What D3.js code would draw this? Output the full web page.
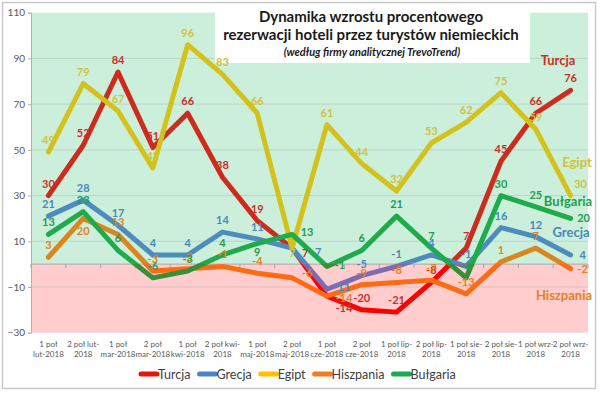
<!DOCTYPE html>
<html>
<head>
<meta charset="utf-8">
<script src="https://cdn.jsdelivr.net/npm/d3@7"></script>
<style>
  body { margin: 0; background: #fff; }
  svg text { font-family: Lato, "Open Sans", sans-serif; }
</style>
</head>
<body>
<div class="chart"></div>
<script>
const svgWidth = 600;
const svgHeight = 394;

// categories (two lines each, as wrapped in the original)
const tickLabels = [
  ["1 poł", "lut-2018"], ["2 poł lut-", "2018"], ["1 poł", "mar-2018"], ["2 poł", "mar-2018"],
  ["1 poł", "kwi-2018"], ["2 poł kwi-", "2018"], ["1 poł", "maj-2018"], ["2 poł", "maj-2018"],
  ["1 poł", "cze-2018"], ["2 poł", "cze-2018"], ["1 poł lip-", "2018"], ["2 poł lip-", "2018"],
  ["1 poł sie-", "2018"], ["2 poł sie-", "2018"], ["1 poł wrz-", "2018"], ["2 poł wrz-", "2018"]
];
const categories = tickLabels.map(d => d.join(" "));

const seriesNames = ["Turcja", "Grecja", "Egipt", "Hiszpania", "Bułgaria"];
const turcja    = [30, 52, 84, 51, 66, 38, 19, 7, -14, -20, -21, -8, 7, 45, 66, 76];
const grecja    = [21, 28, 17, 4, 4, 14, 11, 7, -11, -5, -1, 4, -1, 16, 12, 4];
const egipt     = [49, 79, 67, 42, 96, 83, 66, 7, 61, 44, 32, 53, 62, 75, 59, 30];
const hiszpania = [3, 20, 13, -3, -2, -1, -4, -6, -14, -9, -8, -7, -13, 1, 7, -2];
const bulgaria  = [13, 23, 6, -6, -3, 4, 9, 13, -1, 6, 21, 7, -6, 30, 25, 20];
const yTicks = [110, 90, 70, 50, 30, 10, -10, -30];

// styles per series
const styles = {
  "Turcja":    { up: "#cc2b1d", down: "#ff0000", legend: "#e8140c", label: "#c8302a" },
  "Grecja":    { up: "#4d8cbd", down: "#7f6cb0", legend: "#4f84c4", label: "#4a88ba" },
  "Egipt":     { up: "#d3c21c", down: "#d3c21c", legend: "#ffc000", label: "#cfc23c" },
  "Hiszpania": { up: "#d8871e", down: "#ff6a12", legend: "#f47c20", label: "#e5801f" },
  "Bułgaria":  { up: "#1faa4c", down: "#35903a", legend: "#1aab50", label: "#1f9e4e" }
};
// label offsets [dx, dy] from the point where they differ from "above"
const labelOffsets = {
  "Turcja":    { 7: [13, 9], 8: [17, 16] },
  "Grecja":    { 7: [26, 8], 8: [15, 2], 15: [12, 4] },
  "Egipt":     { 7: [0, 9], 15: [10, -8] },
  "Hiszpania": { 1: [0, 17], 7: [15, -1], 8: [17, 6], 15: [12, 4] },
  "Bułgaria":  { 6: [0, 12], 7: [15, 2], 8: [13, 3], 15: [13, 4] }
};

const allSeries = [turcja, grecja, egipt, hiszpania, bulgaria].map((values, i) => ({
  name: seriesNames[i], values: values
}));

const svg = d3.select(".chart").append("svg")
  .attr("width", svgWidth)
  .attr("height", svgHeight);

// outer frame
svg.append("rect")
  .attr("x", 2.5).attr("y", 2.5)
  .attr("width", 593).attr("height", 386)
  .attr("fill", "#fff")
  .attr("stroke", "#c9c9c9")
  .attr("stroke-width", 1.5);

const plot = { left: 31, right: 588, top: 12.7, bottom: 332.7 };

const x = d3.scalePoint()
  .domain(categories)
  .range([plot.left, plot.right])
  .padding(0.5);
const step = x.step();

const y = d3.scaleLinear()
  .domain([-30, 110])
  .range([plot.bottom, plot.top]);

// background bands
svg.append("rect")
  .attr("x", plot.left).attr("y", y(110))
  .attr("width", plot.right - plot.left).attr("height", y(0) - y(110))
  .attr("fill", "#ccefdc");
svg.append("rect")
  .attr("x", plot.left).attr("y", y(0))
  .attr("width", plot.right - plot.left).attr("height", y(-30) - y(0))
  .attr("fill", "#ffcdcd");

// gridlines
svg.append("g")
  .selectAll("line")
  .data(yTicks.slice(1, -1))
  .enter()
  .append("line")
  .attr("x1", plot.left).attr("x2", plot.right)
  .attr("y1", d => y(d)).attr("y2", d => y(d))
  .attr("stroke", "#9aa8a0")
  .attr("stroke-opacity", 0.35);

// y axis
const yAxis = svg.append("g")
  .attr("transform", `translate(${plot.left},0)`)
  .call(d3.axisLeft(y).tickValues(yTicks).tickSize(3).tickFormat(d3.format("d")));
yAxis.select(".domain").attr("stroke", "#b0b0b0");
yAxis.selectAll(".tick line").attr("stroke", "#b0b0b0");
yAxis.selectAll("text")
  .attr("fill", "#595959")
  .attr("font-size", "10px")
  .attr("x", -6);

// zero axis with ticks on category boundaries
const zeroAxis = svg.append("g");
zeroAxis.append("line")
  .attr("x1", plot.left).attr("x2", plot.right)
  .attr("y1", y(0)).attr("y2", y(0))
  .attr("stroke", "#a6a6a6");
zeroAxis.selectAll(".btick")
  .data(d3.range(categories.length + 1))
  .enter()
  .append("line")
  .attr("x1", i => plot.left + i * step).attr("x2", i => plot.left + i * step)
  .attr("y1", y(0)).attr("y2", y(0) + 4)
  .attr("stroke", "#a6a6a6");

// category labels
const xLabels = svg.append("g")
  .selectAll("text")
  .data(tickLabels)
  .enter()
  .append("text")
  .attr("text-anchor", "middle")
  .attr("font-size", "8px")
  .attr("fill", "#595959");
xLabels.each(function (d, i) {
  const t = d3.select(this);
  d.forEach((line, k) => {
    t.append("tspan")
      .attr("x", x(categories[i]))
      .attr("y", 347 + k * 9.5)
      .text(line);
  });
});

// title box
svg.append("rect")
  .attr("x", 215).attr("y", 4)
  .attr("width", 315).attr("height", 59)
  .attr("fill", "#fff");
const title = svg.append("g").attr("text-anchor", "middle");
title.append("text")
  .attr("x", 371).attr("y", 22)
  .attr("font-size", "15px").attr("font-weight", 700).attr("fill", "#1a1a1a")
  .text("Dynamika wzrostu procentowego");
title.append("text")
  .attr("x", 371).attr("y", 40)
  .attr("font-size", "15px").attr("font-weight", 700).attr("fill", "#1a1a1a")
  .text("rezerwacji hoteli przez turystów niemieckich");
title.append("text")
  .attr("x", 372).attr("y", 56)
  .attr("font-size", "11px").attr("font-weight", 700).attr("font-style", "italic").attr("fill", "#1a1a1a")
  .text("(według firmy analitycznej TrevoTrend)");

// gradients switch colour at zero
const defs = svg.append("defs");
const zeroOffset = (y(0) - y(110)) / (y(-30) - y(110));
allSeries.forEach((s, i) => {
  const g = defs.append("linearGradient")
    .attr("id", "grad" + i)
    .attr("gradientUnits", "userSpaceOnUse")
    .attr("x1", 0).attr("x2", 0)
    .attr("y1", y(110)).attr("y2", y(-30));
  g.append("stop").attr("offset", zeroOffset).attr("stop-color", styles[s.name].up);
  g.append("stop").attr("offset", zeroOffset).attr("stop-color", styles[s.name].down);
});

const line = d3.line()
  .x((d, i) => x(categories[i]))
  .y(d => y(d));

svg.append("g")
  .selectAll("path")
  .data(allSeries)
  .enter()
  .append("path")
  .attr("d", d => line(d.values))
  .attr("fill", "none")
  .attr("stroke", (d, i) => `url(#grad${i})`)
  .attr("stroke-width", 5)
  .attr("stroke-linejoin", "round")
  .attr("stroke-linecap", "round");

// data labels
allSeries.forEach(s => {
  const offs = labelOffsets[s.name] || {};
  svg.append("g")
    .selectAll("text")
    .data(s.values)
    .enter()
    .append("text")
    .attr("x", (d, i) => x(categories[i]) + (offs[i] ? offs[i][0] : 0))
    .attr("y", (d, i) => y(d) + (offs[i] ? offs[i][1] : -8))
    .attr("text-anchor", "middle")
    .attr("font-size", "11px")
    .attr("font-weight", 700)
    .attr("fill", styles[s.name].label)
    .text(d => d);
});

// series names at right
const nameLabels = [
  { name: "Turcja", x: 558, y: 65 },
  { name: "Egipt", x: 577, y: 167 },
  { name: "Bułgaria", x: 568, y: 206 },
  { name: "Grecja", x: 571, y: 237 },
  { name: "Hiszpania", x: 564, y: 300 }
];
svg.append("g")
  .selectAll("text")
  .data(nameLabels)
  .enter()
  .append("text")
  .attr("x", d => d.x).attr("y", d => d.y)
  .attr("text-anchor", "middle")
  .attr("font-size", "13px")
  .attr("font-weight", 700)
  .attr("fill", d => styles[d.name].label)
  .text(d => d.name);

// legend
const legend = svg.append("g").attr("transform", "translate(140,374)");
let lx = 0;
seriesNames.forEach(name => {
  const item = legend.append("g").attr("transform", `translate(${lx},0)`);
  item.append("line")
    .attr("x1", 1).attr("x2", 17)
    .attr("stroke", styles[name].legend)
    .attr("stroke-width", 5)
    .attr("stroke-linecap", "round");
  const t = item.append("text")
    .attr("x", 18).attr("y", 4.5)
    .attr("font-size", "12.5px")
    .attr("fill", "#404040")
    .text(name);
  lx += 18 + t.node().getComputedTextLength() + 8;
});
</script>
</body>
</html>
